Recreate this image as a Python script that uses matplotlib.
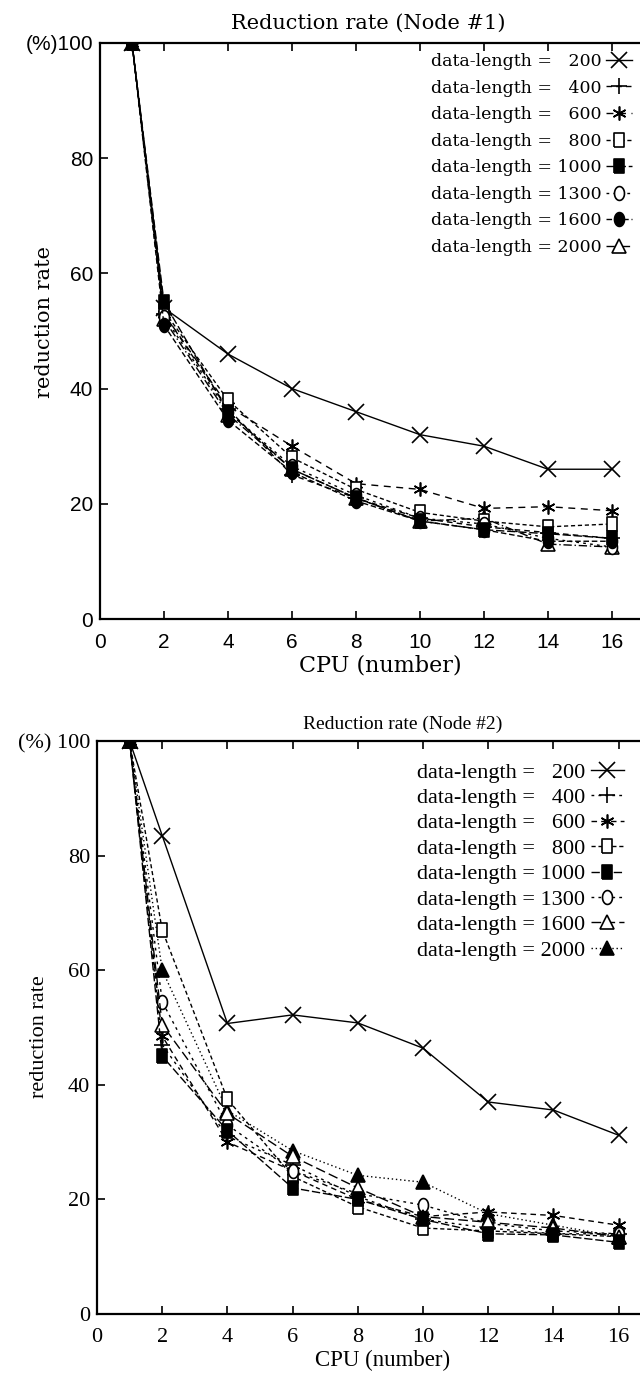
import matplotlib
matplotlib.use("Agg")
import matplotlib.pyplot as plt
import numpy as np

cpus = [1, 2, 4, 6, 8, 10, 12, 14, 16]
lengths = [200, 400, 600, 800, 1000, 1300, 1600, 2000]

# Node #1 reduction rate (%)
node1_200 = [100, 54, 46, 40, 36, 32, 30, 26, 26]
node1_400 = [100, 53, 36.5, 25, 21, 17.5, 16, 15, 14]
node1_600 = [100, 53, 37, 30, 23.5, 22.5, 19.2, 19.5, 18.8]
node1_800 = [100, 53.5, 38, 28, 22.5, 18.5, 17, 16, 16.5]
node1_1000 = [100, 55, 36, 26, 21, 17, 15.5, 14.8, 14]
node1_1300 = [100, 52.5, 36, 26.5, 21.5, 17.5, 16.5, 14, 12.5]
node1_1600 = [100, 51, 34.5, 25.5, 20.5, 17, 15.5, 13.5, 13.5]
node1_2000 = [100, 52, 35.5, 26, 21, 17, 17.5, 13, 12.5]

# Node #2 reduction rate (%)
node2_200 = [100, 83.5, 50.7, 52.2, 50.8, 46.4, 37, 35.6, 31.2]
node2_400 = [100, 47, 31, 26, 20.5, 16.5, 15, 14, 14]
node2_600 = [100, 48.5, 30, 25, 20, 17, 17.8, 17.2, 15.5]
node2_800 = [100, 67, 37.5, 24, 18.7, 15, 14.5, 14, 13.5]
node2_1000 = [100, 45, 32, 22, 20, 16.5, 14, 13.8, 12.5]
node2_1300 = [100, 54.5, 33, 25, 21, 19, 15.8, 14.5, 14]
node2_1600 = [100, 50.5, 35, 27.5, 22, 17, 16, 15, 13.5]
node2_2000 = [100, 60, 35.5, 28.5, 24.2, 23, 17.5, 15.5, 13.5]

node1 = [node1_200, node1_400, node1_600, node1_800, node1_1000, node1_1300, node1_1600, node1_2000]
node2 = [node2_200, node2_400, node2_600, node2_800, node2_1000, node2_1300, node2_1600, node2_2000]

xticks = [0, 2, 4, 6, 8, 10, 12, 14, 16]
yticks = [0, 20, 40, 60, 80, 100]

# tall box / tall oval markers like the scanned figure
rect = [(-0.35, -0.5), (0.35, -0.5), (0.35, 0.5), (-0.35, 0.5), (-0.35, -0.5)]
t = np.linspace(0, 2 * np.pi, 30)
ell = list(zip(0.36 * np.cos(t), 0.5 * np.sin(t)))
aster = (6, 2, 0)

# marker, filled, dash pattern
style1 = [("x", False, "-"), ("+", False, (0, (4, 3))), (aster, False, (0, (5, 4))),
          (rect, False, (0, (3, 2))), (rect, True, (0, (6, 2))), (ell, False, (0, (2, 3))),
          (ell, True, (0, (4, 2))), ("^", False, (0, (6, 2, 1, 2)))]
style2 = [("x", False, "-"), ("+", False, (0, (2, 3))), (aster, False, (0, (4, 3))),
          (rect, False, (0, (3, 2))), (rect, True, (0, (6, 2))), (ell, False, (0, (2, 3))),
          ("^", False, (0, (7, 3))), ("^", True, (0, (1, 2)))]

fig = plt.figure(figsize=(6.4, 13.75), dpi=100)
W, H = 640.0, 1375.0


def draw(rect_px, data, styles, tickfont, textfont, title, tick100, leg_anchor, title_xy, ylab_xy,
         fs_leg, fs_tick, fs_title, fs_lab, fs_ylab, lspace):
    x0, ytop, pxu, ybot = rect_px
    ax = fig.add_axes([x0 / W, 1 - ybot / H, 17.5 * pxu / W, (ybot - ytop) / H])
    for vals, n, (m, filled, ls) in zip(data, lengths, styles):
        ms = 10 if m not in ("x", "+") else 12
        ax.plot(cpus, vals, color="black", linestyle=ls, linewidth=1.0, marker=m,
                markersize=ms, markerfacecolor="black" if filled else "white",
                markeredgecolor="black", markeredgewidth=1.2,
                zorder=4 if n == 1000 else (2 if n == 2000 else 3),
                label="data-length = " + ("  " if n < 1000 else "") + str(n))
    ax.set_xlim(0, 17.5)
    ax.set_ylim(0, 100)
    ax.set_xticks(xticks)
    ax.set_yticks(yticks)
    ax.set_xticklabels([str(v) for v in xticks], fontfamily=tickfont, fontsize=fs_tick)
    ax.set_yticklabels([str(v) for v in yticks[:-1]] + [tick100], fontfamily=tickfont, fontsize=fs_tick)
    ax.spines["right"].set_visible(False)
    for s in ["left", "bottom", "top"]:
        ax.spines[s].set_linewidth(1.6)
    ax.tick_params(direction="in", length=6, width=1.2, top=True, right=False)
    ax.tick_params(axis="x", pad=10)
    ax.tick_params(axis="y", pad=5)
    ax.set_xlabel("CPU (number)", fontfamily=textfont, fontsize=fs_lab, labelpad=2)
    fig.text(title_xy[0] / W, 1 - title_xy[1] / H, title, ha="center", va="center",
             fontfamily=textfont, fontsize=fs_title)
    fig.text(ylab_xy[0] / W, 1 - ylab_xy[1] / H, "reduction rate", ha="center", va="center",
             rotation=90, fontfamily=textfont, fontsize=fs_ylab)
    ax.legend(loc="upper right", bbox_to_anchor=(leg_anchor[0] / W, 1 - leg_anchor[1] / H),
              bbox_transform=fig.transFigure, frameon=False, markerfirst=False,
              handlelength=1.5, handletextpad=0.25, labelspacing=lspace, borderpad=0,
              borderaxespad=0, numpoints=1, prop={"family": textfont, "size": fs_leg})
    return ax


draw((100, 43, 32.0, 619), node1, style1, "Liberation Sans", "DejaVu Serif",
     "Reduction rate (Node #1)", "(%)100", (632, 53), (368, 23), (45, 322),
     12.5, 15, 15, 16, 15, 0.55)
draw((97, 741, 32.6, 1314), node2, style2, "Liberation Serif", "Liberation Serif",
     "Reduction rate (Node #2)", "(%) 100", (624, 762), (403, 724), (40, 1037),
     16, 16, 14, 16.5, 16, 0.22)

fig.savefig("out.png", dpi=100)
